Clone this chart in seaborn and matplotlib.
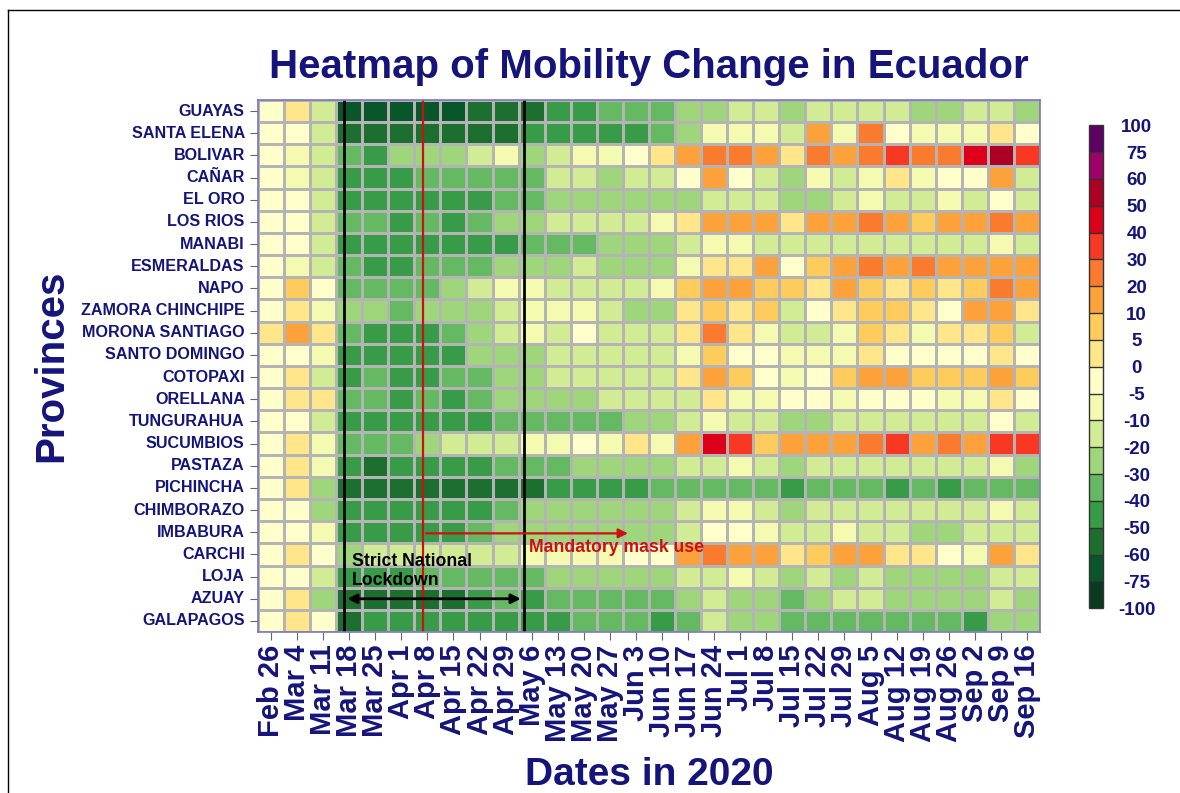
import numpy as np
import pandas as pd
import matplotlib
matplotlib.use('Agg')
import matplotlib.pyplot as plt
from matplotlib.colors import ListedColormap, BoundaryNorm
from matplotlib.lines import Line2D
import seaborn as sns

# fechas (semanas) y provincias
dates = ['Feb 26', 'Mar 4', 'Mar 11', 'Mar 18', 'Mar 25', 'Apr 1', 'Apr 8', 'Apr 15',
         'Apr 22', 'Apr 29', 'May 6', 'May 13', 'May 20', 'May 27', 'Jun 3', 'Jun 10',
         'Jun 17', 'Jun 24', 'Jul 1', 'Jul 8', 'Jul 15', 'Jul 22', 'Jul 29', 'Aug 5',
         'Aug 12', 'Aug 19', 'Aug 26', 'Sep 2', 'Sep 9', 'Sep 16']

provinces = ['GUAYAS', 'SANTA ELENA', 'BOLIVAR', 'CAÑAR', 'EL ORO', 'LOS RIOS', 'MANABI',
             'ESMERALDAS', 'NAPO', 'ZAMORA CHINCHIPE', 'MORONA SANTIAGO', 'SANTO DOMINGO',
             'COTOPAXI', 'ORELLANA', 'TUNGURAHUA', 'SUCUMBIOS', 'PASTAZA', 'PICHINCHA',
             'CHIMBORAZO', 'IMBABURA', 'CARCHI', 'LOJA', 'AZUAY', 'GALAPAGOS']

# cambio de movilidad (%) por provincia
guayas = [-2, 3, -15, -65, -65, -65, -65, -65, -55, -55, -55, -45, -45, -35, -35, -35, -25, -25, -15, -15, -25, -15, -15, -15, -15, -25, -25, -15, -15, -25]
santa_elena = [-2, -2, -15, -55, -55, -55, -55, -55, -55, -55, -45, -45, -45, -45, -45, -35, -25, -7, -7, -7, -15, 15, -7, 25, -2, -7, -7, -7, 3, -2]
bolivar = [-2, -7, -15, -35, -45, -25, -25, -25, -15, -7, -25, -15, -7, -7, -2, 3, 15, 25, 25, 15, 3, 25, 15, 25, 35, 25, 25, 45, 55, 35]
canar = [-2, -7, -15, -45, -45, -45, -35, -35, -35, -35, -35, -15, -15, -25, -15, -15, -2, 15, -2, -15, -25, -7, -15, -7, 3, -7, -2, -2, 15, -15]
el_oro = [-2, -2, -15, -45, -45, -45, -45, -45, -45, -35, -35, -25, -25, -25, -25, -25, -25, -15, -15, -15, -25, -25, -15, -7, -15, -15, -7, -15, -2, -15]
los_rios = [-2, -2, -15, -35, -35, -45, -35, -45, -35, -25, -25, -15, -15, -15, -15, -7, 3, 15, 15, 15, 3, 15, 15, 25, 15, 8, 15, 15, 25, 15]
manabi = [-2, -2, -15, -45, -45, -45, -45, -45, -45, -45, -35, -35, -35, -25, -25, -25, -15, -7, -7, -15, -15, -15, -15, -15, -15, -15, -15, -15, -7, -15]
esmeraldas = [-2, -7, -15, -35, -45, -45, -35, -35, -35, -25, -25, -25, -15, -25, -25, -25, -7, 3, 3, 15, -2, 8, 15, 25, 15, 25, 15, 15, 15, 15]
napo = [-2, 8, -2, -35, -35, -35, -35, -25, -15, -7, -7, -15, -15, -15, -15, -7, 8, 15, 15, 8, 8, 3, 15, 8, 3, 8, 3, 8, 25, 15]
zamora = [-2, 3, -7, -25, -25, -35, -25, -25, -25, -15, -7, -7, -7, -15, -25, -25, 3, 8, 3, 8, -15, -2, 3, 8, 8, 3, -2, 15, 15, 3]
morona = [3, 15, 3, -35, -45, -45, -45, -35, -25, -15, -7, -15, -2, -15, -15, -15, 3, 25, 3, -7, -15, -15, -7, 8, 3, -7, 3, 3, 8, -15]
santo_domingo = [-2, -2, -7, -45, -45, -45, -45, -45, -25, -25, -25, -15, -15, -15, -15, -15, -7, 8, -2, -2, -7, -7, -7, 3, -2, -2, -2, -2, 3, -2]
cotopaxi = [-2, 3, -15, -45, -35, -45, -45, -35, -35, -25, -25, -15, -15, -15, -15, -15, 3, 15, 8, -2, -7, -2, 8, 15, 15, 8, 8, 8, 15, 8]
orellana = [-2, 3, 3, -35, -35, -45, -35, -45, -35, -25, -25, -25, -25, -15, -15, -15, -15, 3, -7, -7, -2, -2, -7, -2, -2, -2, -7, -7, 3, -2]
tungurahua = [-2, -2, -15, -45, -45, -45, -45, -45, -45, -35, -35, -35, -35, -35, -25, -25, -15, -7, -15, -15, -25, -25, -15, -15, -15, -15, -15, -15, -2, -15]
sucumbios = [-2, 3, -7, -35, -35, -35, -25, -15, -15, -15, -7, -7, -2, -7, 3, -7, 15, 45, 35, 8, 15, 15, 15, 25, 35, 15, 25, 15, 35, 35]
pastaza = [-2, 3, -7, -45, -55, -45, -45, -45, -45, -35, -35, -35, -25, -25, -25, -25, -15, -15, -7, -15, -25, -15, -15, -15, -15, -15, -15, -15, -7, -25]
pichincha = [-2, 3, -25, -55, -55, -55, -55, -55, -55, -55, -55, -45, -45, -45, -45, -35, -35, -35, -35, -35, -45, -35, -35, -35, -45, -35, -45, -35, -35, -35]
chimborazo = [-2, -2, -25, -45, -45, -45, -45, -45, -45, -35, -25, -25, -25, -25, -25, -25, -15, -7, -7, -15, -25, -15, -15, -15, -15, -15, -15, -15, -7, -15]
imbabura = [-2, -2, -7, -45, -45, -45, -45, -45, -35, -25, -25, -25, -25, -25, -25, -25, -15, -2, -2, -7, -15, -15, -7, -15, -15, -25, -25, -15, -15, -15]
carchi = [-2, 3, -2, -25, -15, -15, -15, -15, -15, -15, -7, -7, -7, -7, -2, -2, 15, 25, 15, 15, 3, 8, 15, 15, 3, 3, -2, -7, 15, 3]
loja = [-2, -2, -15, -45, -45, -45, -35, -35, -35, -35, -35, -25, -25, -25, -25, -25, -15, -15, -7, -15, -25, -15, -25, -15, -25, -25, -25, -25, -15, -15]
azuay = [-2, 3, -25, -55, -55, -55, -55, -55, -45, -35, -45, -35, -35, -35, -35, -35, -25, -15, -25, -25, -35, -25, -15, -15, -25, -25, -25, -25, -15, -25]
galapagos = [-2, 3, -2, -55, -45, -45, -45, -45, -45, -45, -45, -45, -35, -35, -35, -45, -35, -15, -25, -25, -35, -35, -35, -35, -35, -35, -35, -45, -25, -25]

rows = [guayas, santa_elena, bolivar, canar, el_oro, los_rios, manabi, esmeraldas, napo,
        zamora, morona, santo_domingo, cotopaxi, orellana, tungurahua, sucumbios, pastaza,
        pichincha, chimborazo, imbabura, carchi, loja, azuay, galapagos]
df = pd.DataFrame(rows, index=provinces, columns=dates)

# escala de colores discreta
bounds = [-100, -75, -60, -50, -40, -30, -20, -10, -5, 0, 5, 10, 20, 30, 40, 50, 60, 75, 100]
colors = ['#0a3a1f', '#08562a', '#1d6f30', '#379b48', '#66b963', '#a0d67b', '#d1ec94',
          '#f4fbb0', '#ffffcc', '#ffe68a', '#fecc5c', '#fda13b', '#fb7b2e', '#f83822',
          '#dc001a', '#ad0024', '#9e0068', '#5e0063']
cmap = ListedColormap(colors)
norm = BoundaryNorm(bounds, cmap.N)

navy = '#14147a'
plt.rcParams['font.family'] = ['Liberation Sans', 'DejaVu Sans']
plt.rcParams['font.weight'] = 'bold'
plt.rcParams['axes.unicode_minus'] = False

fig = plt.figure(figsize=(11.8, 7.93), dpi=100)
ax = fig.add_axes([0.2186, 0.203, 0.6627, 0.671])
cax = fig.add_axes([0.9225, 0.233, 0.0125, 0.609])

sns.heatmap(df, ax=ax, cbar_ax=cax, cmap=cmap, norm=norm, linewidths=1, linecolor='#b4b4b4',
            cbar_kws={'ticks': bounds, 'drawedges': True})

for s in ax.spines.values():
    s.set_visible(True)
    s.set_color('#7878b8')
    s.set_linewidth(1.2)

ax.set_xticks(np.arange(len(dates)) + 0.5)
ax.set_xticklabels(dates, rotation=90, fontsize=21, color=navy, fontweight='bold')
ax.set_yticks(np.arange(len(provinces)) + 0.5)
ax.set_yticklabels(provinces, rotation=0, fontsize=11.6, color=navy, fontweight='bold')
ax.tick_params(axis='both', length=6, color='#666666', width=0.8)
ax.tick_params(axis='x', pad=3)

ax.set_title('Heatmap of Mobility Change in Ecuador', fontsize=29, color=navy,
             fontweight='bold', pad=16)
ax.set_xlabel('Dates in 2020', fontsize=28, color=navy, fontweight='bold', labelpad=11)
ax.set_ylabel('Provinces', fontsize=29, color=navy, fontweight='bold', labelpad=8)

# barra de color
cb = ax.collections[0].colorbar
cb.ax.tick_params(labelsize=13.5, labelcolor=navy, length=0, pad=24)
for t in cb.ax.get_yticklabels():
    t.set_fontweight('bold')
    t.set_horizontalalignment('center')
cb.outline.set_edgecolor('#333333')
cb.outline.set_linewidth(1)
cb.dividers.set_color('#333333')
cb.dividers.set_linewidth(1)

# anotaciones: cuarentena y mascarilla
ax.axvline(3.32, color='black', lw=2)
ax.axvline(10.19, color='black', lw=2)
ax.axvline(6.35, color='#cc1111', lw=1.6)
ax.annotate('', xy=(3.32, 22.5), xytext=(10.19, 22.5),
            arrowprops=dict(arrowstyle='<|-|>', color='black', lw=2, mutation_scale=14))
ax.text(3.6, 21.25, 'Strict National\nLockdown', fontsize=12.7, fontweight='bold',
        color='black', ha='left', va='center', linespacing=1.2)
ax.annotate('', xy=(14.3, 19.55), xytext=(6.35, 19.55),
            arrowprops=dict(arrowstyle='-|>', color='#cc1111', lw=1.6, mutation_scale=14))
ax.text(10.4, 20.2, 'Mandatory mask use', fontsize=12.7, fontweight='bold',
        color='#cc1111', ha='left', va='center')

# marco de la imagen
fig.add_artist(Line2D([0.007, 1], [0.988, 0.988], color='black', lw=1))
fig.add_artist(Line2D([0.007, 0.007], [0, 0.988], color='black', lw=1))

fig.savefig('out.png', dpi=100)
